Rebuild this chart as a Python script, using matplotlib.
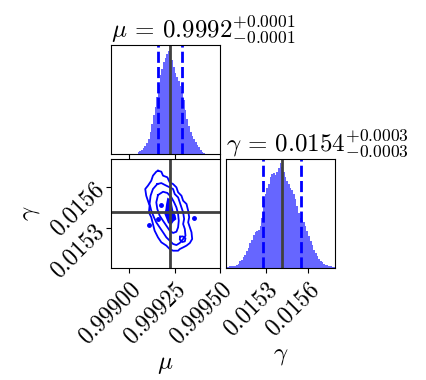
import numpy as np
import matplotlib
matplotlib.use("Agg")
import matplotlib.pyplot as plt

plt.rcParams['font.family'] = 'serif'
plt.rcParams['font.serif'] = ['cmr10']
plt.rcParams['mathtext.fontset'] = 'cm'
plt.rcParams['axes.formatter.use_mathtext'] = True
plt.rcParams['axes.unicode_minus'] = False

# parameter ranges
mu_range = (0.99890, 0.99950)
gamma_range = (0.015007, 0.015800)

# truths and quantiles
mu_truth = 0.999227
gamma_truth = 0.015412
mu_q = [0.999158, 0.999288]
gamma_q = [0.015276, 0.015549]

# 1D histogram of mu (bins between 0.999038 and 0.999417)
mu_hist_lo, mu_hist_hi = 0.999038, 0.999417
mu_counts = [1, 5, 8, 12, 17, 23, 32, 45, 65, 90, 115, 140, 170, 205, 235,
             255, 273, 287, 299, 307, 297, 280, 260, 243, 230, 217, 203, 185,
             160, 130, 103, 83, 67, 55, 45, 35, 27, 20, 13, 7, 3]

# 1D histogram of gamma (bins spanning the full range)
gamma_counts = [4, 4, 5, 5, 7, 7, 10, 13, 20, 24, 33, 40, 52, 60, 74, 84,
                98, 106, 110, 112, 125, 150, 205, 222, 240, 250, 270, 280,
                282, 278, 285, 298, 312, 300, 285, 270, 258, 250, 240, 232,
                220, 205, 185, 165, 150, 143, 138, 125, 110, 95, 80, 68,
                55, 46, 36, 28, 22, 17, 12, 10, 8, 7, 5, 4, 4]

# 2D contour outlines (mu = 0.9989 + a*1e-6, gamma = b*1e-6)
c1_mu = [258.5, 276.9, 286.2, 310.1, 323.1, 341.5, 360.0, 369.2, 387.7, 396.9,
         415.4, 424.6, 430.1, 424.6, 433.8, 443.0, 446.7, 433.8, 415.4, 396.9,
         378.4, 369.2, 341.5, 323.1, 304.6, 276.9, 258.5, 240.0, 230.8, 221.5,
         208.6, 212.3, 203.1, 193.8, 188.3, 203.1, 221.5, 230.8, 249.2]
c1_g = [15715, 15708, 15679, 15667, 15630, 15618, 15594, 15558, 15533, 15497,
        15473, 15424, 15376, 15339, 15303, 15267, 15218, 15189, 15170, 15157,
        15145, 15133, 15133, 15145, 15170, 15194, 15230, 15279, 15327, 15376,
        15412, 15461, 15497, 15533, 15582, 15606, 15642, 15679, 15708]
c2_mu = [254.8, 276.9, 304.6, 323.1, 341.5, 350.8, 369.2, 378.4, 387.7, 396.9,
         402.5, 396.9, 406.2, 409.8, 396.9, 378.4, 360.0, 341.5, 323.1, 304.6,
         286.2, 267.7, 249.2, 236.3, 221.5, 212.3, 217.8, 230.8]
c2_g = [15618, 15625, 15606, 15594, 15582, 15545, 15521, 15485, 15448, 15412,
        15364, 15327, 15291, 15242, 15218, 15189, 15174, 15182, 15206, 15230,
        15267, 15303, 15339, 15376, 15424, 15473, 15533, 15582]
c3_mu = [258.5, 286.2, 310.1, 332.3, 347.1, 360.0, 369.2, 372.9, 369.2, 360.0,
         341.5, 323.1, 304.6, 286.2, 267.7, 254.8, 249.2]
c3_g = [15538, 15562, 15553, 15521, 15485, 15448, 15400, 15351, 15303, 15271,
        15262, 15279, 15315, 15351, 15388, 15436, 15485]
c4_mu = [313.8, 328.6, 332.3, 337.8, 350.8, 354.5, 341.5, 328.6, 317.5, 310.1,
         299.1, 304.6, 308.3]
c4_g = [15509, 15497, 15461, 15424, 15388, 15364, 15351, 15327, 15339, 15364,
        15400, 15436, 15473]
loop_mu = [380.3, 395.1, 409.8, 406.2, 391.4, 378.4]
loop_g = [15235, 15237, 15223, 15201, 15196, 15215]
dots_mu = [276.9, 258.5, 208.6, 456.0]
dots_g = [15465, 15364, 15322, 15368]

hist_color = '#6666ff'
line_color = '#0000ff'
truth_color = '#404040'

fig = plt.figure(figsize=(4.26, 3.8), dpi=100)
ax_mu = fig.add_axes([0.2606, 0.5947, 0.2559, 0.2868])
ax_2d = fig.add_axes([0.2606, 0.2947, 0.2559, 0.2868])
ax_g = fig.add_axes([0.5305, 0.2947, 0.2559, 0.2868])

# mu histogram
edges = np.linspace(mu_hist_lo, mu_hist_hi, len(mu_counts) + 1)
ax_mu.stairs(mu_counts, edges, fill=True, color=hist_color, lw=0)
for q in mu_q:
    ax_mu.axvline(q, color=line_color, ls=(0, (4, 1.5)), lw=2)
ax_mu.axvline(mu_truth, color=truth_color, lw=2)
ax_mu.set_xlim(mu_range)
ax_mu.set_ylim(0, 325)
ax_mu.set_yticks([])
ax_mu.set_xticks([0.99900, 0.99925, 0.99950])
ax_mu.set_xticklabels([])
ax_mu.set_title(r'$\mu$ = $0.9992^{+0.0001}_{-0.0001}$', loc='left', fontsize=18, pad=6)

# gamma histogram
edges = np.linspace(gamma_range[0], gamma_range[1], len(gamma_counts) + 1)
ax_g.stairs(gamma_counts, edges, fill=True, color=hist_color, lw=0)
for q in gamma_q:
    ax_g.axvline(q, color=line_color, ls=(0, (4, 1.5)), lw=2)
ax_g.axvline(gamma_truth, color=truth_color, lw=2)
ax_g.set_xlim(gamma_range)
ax_g.set_ylim(0, 325)
ax_g.set_yticks([])
ax_g.set_xticks([0.0153, 0.0156])
ax_g.set_xticklabels(['0.0153', '0.0156'], rotation=45, ha='right', va='top',
                     rotation_mode='anchor', fontsize=17)
ax_g.set_xlabel(r'$\gamma$', fontsize=18)
ax_g.set_title(r'$\gamma$ = $0.0154^{+0.0003}_{-0.0003}$', loc='left', fontsize=18, pad=6)

# 2D panel
for cm, cg in [(c1_mu, c1_g), (c2_mu, c2_g), (c3_mu, c3_g), (loop_mu, loop_g)]:
    xs = 0.9989 + np.array(cm + cm[:1]) * 1e-6
    ys = np.array(cg + cg[:1]) * 1e-6
    ax_2d.plot(xs, ys, color=line_color, lw=1.3)
xs = 0.9989 + np.array(c4_mu) * 1e-6
ys = np.array(c4_g) * 1e-6
ax_2d.fill(xs, ys, color=line_color, lw=1.3)
ax_2d.plot(0.9989 + np.array(dots_mu) * 1e-6, np.array(dots_g) * 1e-6, 'o',
           color=line_color, ms=2.5)
ax_2d.axvline(mu_truth, color=truth_color, lw=2)
ax_2d.axhline(gamma_truth, color=truth_color, lw=2)
ax_2d.set_xlim(mu_range)
ax_2d.set_ylim(gamma_range)
ax_2d.set_xticks([0.99900, 0.99925, 0.99950])
ax_2d.set_xticklabels(['0.99900', '0.99925', '0.99950'], rotation=45, ha='right',
                      va='top', rotation_mode='anchor', fontsize=17)
ax_2d.set_yticks([0.0153, 0.0156])
ax_2d.set_yticklabels(['0.0153', '0.0156'], rotation=45, ha='right', va='center',
                      rotation_mode='anchor', fontsize=17)
ax_2d.set_xlabel(r'$\mu$', fontsize=18)
ax_2d.set_ylabel(r'$\gamma$', fontsize=18)

fig.savefig('out.png', dpi=100)
